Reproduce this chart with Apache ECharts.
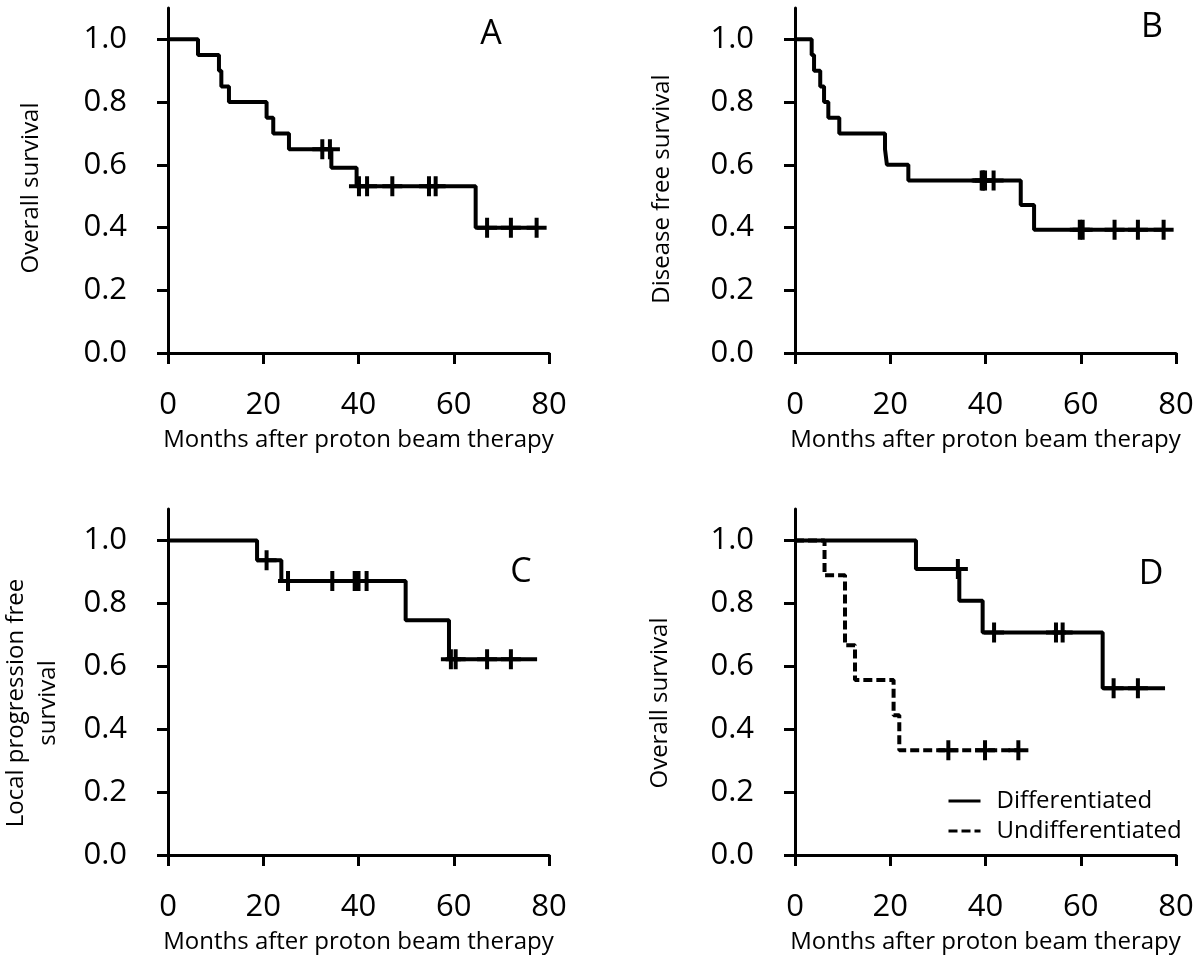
<!DOCTYPE html>
<html>
<head>
    <meta charset="UTF-8">
    <title>Survival after proton beam therapy</title>
    <script src="https://cdn.jsdelivr.net/npm/echarts@6.0.0/dist/echarts.min.js"></script>
    <style>
        html, body { margin: 0; padding: 0; background: #fff; }
        #chart { width: 1200px; height: 963px; }
    </style>
</head>
<body>
    <div id="chart"></div>

    <script>
        // A: overall survival
        const osTimes = [0, 6.3, 10.7, 11.2, 12.8, 20.7, 22.1, 25.4, 34.3, 39.6, 64.6, 77.4];
        const osSurv = [1, 0.95, 0.90, 0.85, 0.80, 0.75, 0.70, 0.65, 0.591, 0.532, 0.399, 0.399];
        const osCensorTimes = [32.4, 34.0, 40.1, 41.8, 47.1, 54.8, 56.2, 67.0, 72.0, 77.4];
        const osCensorSurv = [0.65, 0.65, 0.532, 0.532, 0.532, 0.532, 0.532, 0.399, 0.399, 0.399];

        // B: disease free survival
        const dfsTimes = [0, 3.5, 4.0, 5.3, 6.1, 7.0, 9.3, 18.9, 19.3, 23.8, 47.4, 50.2, 77.4];
        const dfsSurv = [1, 0.95, 0.90, 0.85, 0.80, 0.75, 0.70, 0.65, 0.60, 0.55, 0.472, 0.393, 0.393];
        const dfsCensorTimes = [39.2, 39.5, 39.9, 41.7, 59.8, 60.4, 67.1, 72.0, 77.4];
        const dfsCensorSurv = [0.55, 0.55, 0.55, 0.55, 0.393, 0.393, 0.393, 0.393, 0.393];

        // C: local progression free survival
        const lpfsTimes = [0, 18.7, 23.8, 49.9, 59.0, 77.5];
        const lpfsSurv = [1, 0.937, 0.871, 0.746, 0.622, 0.622];
        const lpfsCensorTimes = [20.7, 25.2, 34.5, 39.2, 39.6, 40.0, 41.7, 59.4, 60.4, 67.0, 72.0];
        const lpfsCensorSurv = [0.937, 0.871, 0.871, 0.871, 0.871, 0.871, 0.871, 0.622, 0.622, 0.622, 0.622];

        // D: overall survival by differentiation
        const diffTimes = [0, 25.4, 34.5, 39.4, 64.6, 77.7];
        const diffSurv = [1, 0.909, 0.808, 0.707, 0.530, 0.530];
        const diffCensorTimes = [34.2, 41.8, 54.8, 56.2, 66.9, 72.0];
        const diffCensorSurv = [0.909, 0.707, 0.707, 0.707, 0.530, 0.530];

        const undiffTimes = [0, 6.2, 10.5, 12.6, 20.7, 21.9, 46.9];
        const undiffSurv = [1, 0.889, 0.667, 0.556, 0.444, 0.333, 0.333];
        const undiffCensorTimes = [32.2, 39.9, 46.9];
        const undiffCensorSurv = [0.333, 0.333, 0.333];

        const yTicks = [0, 0.2, 0.4, 0.6, 0.8, 1.0];
        const xTitle = 'Months after proton beam therapy';
        const font = 'Open Sans';

        const plus = 'path://M-2,-10L2,-10L2,-2L10,-2L10,2L2,2L2,10L-2,10L-2,2L-10,2L-10,-2L-2,-2Z';

        function pairs(xs, ys) {
            return xs.map(function (x, i) { return [x, ys[i]]; });
        }

        const grids = [
            { left: 168, top: 8, width: 381, height: 345 },
            { left: 795, top: 8, width: 381, height: 345 },
            { left: 168, top: 509, width: 381, height: 346 },
            { left: 795, top: 509, width: 381, height: 346 }
        ];

        const axisLine = { lineStyle: { color: '#000', width: 3 } };
        const axisTick = { length: 11, lineStyle: { color: '#000', width: 3 } };

        const xAxes = grids.map(function (g, i) {
            return {
                type: 'value', gridIndex: i, min: 0, max: 80, interval: 20,
                name: xTitle, nameLocation: 'middle', nameGap: 75,
                nameTextStyle: { fontFamily: font, fontSize: 24, color: '#000' },
                axisLine: axisLine, axisTick: axisTick,
                axisLabel: { fontFamily: font, fontSize: 31, color: '#000', margin: 37 },
                splitLine: { show: false }
            };
        });

        const yAxes = grids.map(function (g, i) {
            return {
                type: 'value', gridIndex: i, min: 0, max: 1.1,
                axisLine: axisLine,
                axisTick: Object.assign({ customValues: yTicks }, axisTick),
                axisLabel: {
                    customValues: yTicks, fontFamily: font, fontSize: 31, color: '#000', margin: 41,
                    formatter: function (v) { return v.toFixed(1); }
                },
                splitLine: { show: false }
            };
        });

        function curve(name, idx, xs, ys, dashed) {
            return {
                name: name, type: 'line', step: 'end', xAxisIndex: idx, yAxisIndex: idx,
                data: pairs(xs, ys), symbol: 'none', silent: true,
                itemStyle: { color: '#000' },
                lineStyle: { color: '#000', width: 4, type: dashed ? [9, 4] : 'solid' }
            };
        }

        function censors(idx, xs, ys) {
            return {
                type: 'scatter', xAxisIndex: idx, yAxisIndex: idx,
                data: pairs(xs, ys), symbol: plus, symbolSize: 20, silent: true,
                itemStyle: { color: '#000', opacity: 1 }, z: 3
            };
        }

        const series = [
            curve('Overall survival', 0, osTimes, osSurv),
            censors(0, osCensorTimes, osCensorSurv),
            curve('Disease free survival', 1, dfsTimes, dfsSurv),
            censors(1, dfsCensorTimes, dfsCensorSurv),
            curve('Local progression free survival', 2, lpfsTimes, lpfsSurv),
            censors(2, lpfsCensorTimes, lpfsCensorSurv),
            curve('Differentiated', 3, diffTimes, diffSurv),
            censors(3, diffCensorTimes, diffCensorSurv),
            curve('Undifferentiated', 3, undiffTimes, undiffSurv, true),
            censors(3, undiffCensorTimes, undiffCensorSurv)
        ];

        function yTitle(text, x, y) {
            return {
                type: 'text', x: x, y: y, rotation: Math.PI / 2,
                style: {
                    text: text, fontFamily: font, fontSize: 24, fill: '#000',
                    align: 'center', verticalAlign: 'middle', lineHeight: 32
                }
            };
        }

        function letter(text, x, y) {
            return {
                type: 'text', x: x, y: y,
                style: { text: text, fontFamily: font, fontSize: 34, fill: '#000', align: 'center', verticalAlign: 'middle' }
            };
        }

        const chart = echarts.init(document.getElementById('chart'));
        chart.setOption({
            animation: false,
            backgroundColor: '#fff',
            grid: grids,
            xAxis: xAxes,
            yAxis: yAxes,
            series: series,
            legend: {
                data: ['Differentiated', 'Undifferentiated'],
                orient: 'vertical', left: 942, top: 784,
                itemWidth: 32, itemHeight: 14, itemGap: 6,
                itemStyle: { opacity: 0 },
                lineStyle: { width: 3 },
                textStyle: { fontFamily: font, fontSize: 24, color: '#000', padding: [0, 0, 0, 11] },
                selectedMode: false
            },
            graphic: [
                yTitle('Overall survival', 31, 188),
                yTitle('Disease free survival', 662, 189),
                yTitle('Local progression free\nsurvival', 32, 703),
                yTitle('Overall survival', 660, 703),
                letter('A', 491, 34),
                letter('B', 1152, 27),
                letter('C', 521, 572),
                letter('D', 1151, 574)
            ]
        });
    </script>
</body>
</html>
